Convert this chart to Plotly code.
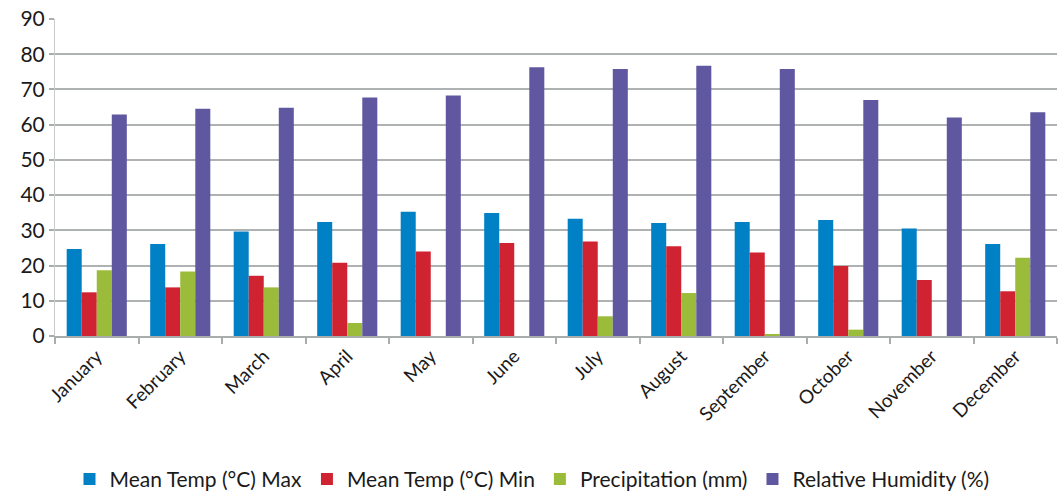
import plotly.graph_objects as go

months = ["January", "February", "March", "April", "May", "June",
          "July", "August", "September", "October", "November", "December"]

temp_max = [24.7, 26.1, 29.7, 32.4, 35.3, 34.9, 33.3, 32.1, 32.4, 32.9, 30.5, 26.1]
temp_min = [12.4, 13.8, 17.1, 20.8, 24.0, 26.4, 26.8, 25.5, 23.7, 19.9, 15.9, 12.7]
precip = [18.7, 18.3, 13.8, 3.7, 0.0, 0.0, 5.6, 12.2, 0.4, 1.8, 0.0, 22.2]
humidity = [62.9, 64.5, 64.8, 67.7, 68.3, 76.3, 75.8, 76.7, 75.8, 67.0, 62.0, 63.5]

series = [
    ("Mean Temp (°C) Max", temp_max, "#0081C5"),
    ("Mean Temp (°C) Min", temp_min, "#D02331"),
    ("Precipitation (mm)", precip, "#9BBB3B"),
    ("Relative Humidity (%)", humidity, "#5F58A1"),
]

fig = go.Figure()
for name, vals, color in series:
    fig.add_trace(go.Bar(
        x=months, y=vals, name=name,
        marker=dict(color=color, line=dict(width=0)),
    ))

font_family = "Lato, 'Open Sans', sans-serif"

fig.update_layout(
    width=1064, height=497,
    margin=dict(l=55, r=7, t=19, b=161, autoexpand=False),
    paper_bgcolor="white", plot_bgcolor="white",
    barmode="group", bargap=0.28, bargroupgap=0,
    font=dict(family=font_family, color="#1a1a1a", size=20),
    showlegend=True,
    legend=dict(
        orientation="h",
        xref="container", x=0.5, xanchor="center",
        yref="paper", y=-0.452, yanchor="middle",
        font=dict(size=21, family=font_family, color="#1a1a1a"),
        itemsizing="constant", traceorder="normal", itemwidth=30,
    ),
    xaxis=dict(
        automargin=False,
        tickangle=-45, tickfont=dict(size=19),
        showline=True, linecolor="#A9ADAD", linewidth=1.5,
        ticks="outside", tickson="boundaries", ticklen=6,
        tickcolor="#A9ADAD", tickwidth=1.5,
        showgrid=False,
    ),
    yaxis=dict(
        automargin=False,
        range=[0, 90], dtick=10, tick0=0,
        tickfont=dict(size=21),
        showline=True, linecolor="#C8CBCB", linewidth=1,
        ticks="outside", ticklen=5, tickcolor="#A9ADAD", tickwidth=1.5,
        showgrid=True, gridcolor="#AEB2B2", gridwidth=1.7,
        zeroline=False,
    ),
)

fig.write_html("out.html")
